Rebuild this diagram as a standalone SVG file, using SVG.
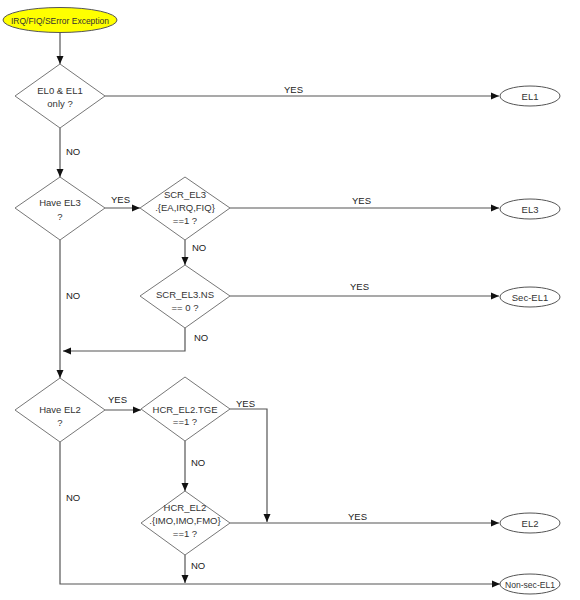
<svg xmlns="http://www.w3.org/2000/svg" width="580" height="600" viewBox="0 0 580 600">
<defs>
<marker id="ah" markerWidth="8" markerHeight="8" refX="8" refY="4" orient="auto" markerUnits="userSpaceOnUse">
<path d="M0,0.5 L8,4 L0,7.5 Z" fill="#111"/>
</marker>
<style>
.dia{fill:#fff;stroke:#777;stroke-width:1}
.term{fill:#fff;stroke:#555;stroke-width:1}
.t{font-family:"Liberation Sans",Arial,sans-serif;font-size:9.5px;fill:#333;text-anchor:middle}
.lb{font-family:"Liberation Sans",Arial,sans-serif;font-size:9.5px;fill:#222}
.c{fill:none;stroke:#555;stroke-width:1.2}
.ca{fill:none;stroke:#555;stroke-width:1.2;marker-end:url(#ah)}
</style>
</defs>
<rect width="580" height="600" fill="#fff"/>

<g id="connectors">
<path class="ca" d="M60,33 V64"/>
<path class="ca" d="M105,96 H499"/>
<path class="ca" d="M60,128 V177"/>
<path class="ca" d="M105,208 H140"/>
<path class="ca" d="M230,208 H499"/>
<path class="ca" d="M185,240 V265"/>
<path class="ca" d="M230,296 H499"/>
<path class="ca" d="M185,328 V351 H63"/>
<path class="ca" d="M60,240 V378"/>
<path class="ca" d="M105,410 H141"/>
<path class="ca" d="M230,409 H267 V522"/>
<path class="ca" d="M185,441 V491"/>
<path class="ca" d="M230,523 H499"/>
<path class="ca" d="M185,555 V583"/>
<path class="ca" d="M60,442 V584 H500"/>
<text class="lb" x="284" y="93">YES</text>
<text class="lb" x="66" y="155">NO</text>
<text class="lb" x="111" y="203">YES</text>
<text class="lb" x="352" y="204">YES</text>
<text class="lb" x="192" y="251">NO</text>
<text class="lb" x="66" y="299">NO</text>
<text class="lb" x="350" y="290">YES</text>
<text class="lb" x="194" y="341">NO</text>
<text class="lb" x="108" y="403">YES</text>
<text class="lb" x="236" y="407">YES</text>
<text class="lb" x="191" y="466">NO</text>
<text class="lb" x="66" y="501">NO</text>
<text class="lb" x="348" y="520">YES</text>
<text class="lb" x="191" y="569">NO</text>
</g>

<g id="start">
<ellipse cx="60" cy="20" rx="57" ry="12.5" fill="#ffff00" stroke="#555" stroke-width="1"/>
<text class="t" x="60" y="23.5" fill="#222" textLength="98" lengthAdjust="spacingAndGlyphs">IRQ/FIQ/SError Exception</text>
</g>

<g id="d-el0el1">
<polygon class="dia" points="60,64 105,96 60,128 15,96"/>
<text class="t" x="60" y="94">EL0 &amp; EL1</text>
<text class="t" x="60" y="107">only  ?</text>
</g>

<g id="d-haveel3">
<polygon class="dia" points="60,177 105,208 60,240 15,208"/>
<text class="t" x="60" y="206">Have EL3</text>
<text class="t" x="60" y="220">?</text>
</g>

<g id="d-screl3">
<polygon class="dia" points="185,177 230,208 185,240 140,208"/>
<text class="t" x="185" y="198">SCR_EL3</text>
<text class="t" x="185" y="211">.{EA,IRQ,FIQ}</text>
<text class="t" x="185" y="224">==1 ?</text>
</g>

<g id="d-screl3ns">
<polygon class="dia" points="185,265 230,296 185,328 140,296"/>
<text class="t" x="185" y="298">SCR_EL3.NS</text>
<text class="t" x="185" y="311">== 0 ?</text>
</g>

<g id="d-haveel2">
<polygon class="dia" points="60,378 105,410 60,442 15,410"/>
<text class="t" x="60" y="413">Have EL2</text>
<text class="t" x="60" y="426">?</text>
</g>

<g id="d-hcrtge">
<polygon class="dia" points="185,377 230,409 185,441 141,409"/>
<text class="t" x="185" y="413">HCR_EL2.TGE</text>
<text class="t" x="185" y="425">==1 ?</text>
</g>

<g id="d-hcrimo">
<polygon class="dia" points="185,491 230,523 185,555 141,523"/>
<text class="t" x="185" y="511">HCR_EL2</text>
<text class="t" x="185" y="524">.{IMO,IMO,FMO}</text>
<text class="t" x="185" y="537">==1 ?</text>
</g>

<g id="t-el1">
<ellipse class="term" cx="530" cy="96" rx="30" ry="10"/>
<text class="t" x="530" y="99.5">EL1</text>
</g>
<g id="t-el3">
<ellipse class="term" cx="530" cy="209" rx="30" ry="10"/>
<text class="t" x="530" y="212.5">EL3</text>
</g>
<g id="t-secel1">
<ellipse class="term" cx="530" cy="297" rx="30" ry="10"/>
<text class="t" x="530" y="300.5">Sec-EL1</text>
</g>
<g id="t-el2">
<ellipse class="term" cx="530" cy="523" rx="30" ry="10"/>
<text class="t" x="530" y="526.5">EL2</text>
</g>
<g id="t-nonsecel1">
<ellipse class="term" cx="530" cy="584" rx="30" ry="10"/>
<text class="t" x="530" y="587.5" textLength="50" lengthAdjust="spacingAndGlyphs">Non-sec-EL1</text>
</g>
</svg>
